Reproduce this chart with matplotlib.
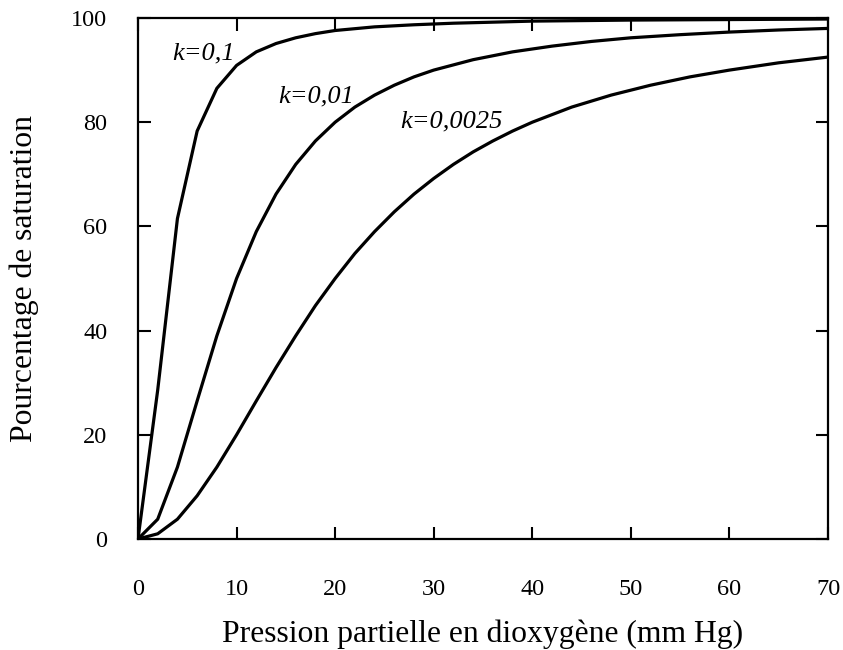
import matplotlib
matplotlib.use("Agg")
import matplotlib.pyplot as plt

# pression (mm Hg) et pourcentage de saturation
p_01 = [0, 2, 4, 6, 8, 10, 12, 14, 16, 18, 20, 24, 28, 32, 40, 50, 60, 70]
s_01 = [0, 28.6, 61.5, 78.3, 86.5, 90.9, 93.5, 95.1, 96.2, 97.0, 97.6, 98.3, 98.7, 99.0, 99.4, 99.6, 99.7, 99.8]

p_001 = [0, 2, 4, 6, 8, 10, 12, 14, 16, 18, 20, 22, 24, 26, 28, 30, 34, 38, 42, 46, 50, 55, 60, 65, 70]
s_001 = [0, 3.8, 13.8, 26.5, 39.0, 50.0, 59.0, 66.2, 71.9, 76.4, 80.0, 82.9, 85.2, 87.1, 88.7, 90.0,
         92.0, 93.5, 94.6, 95.5, 96.2, 96.8, 97.3, 97.7, 98.0]

p_00025 = [0, 2, 4, 6, 8, 10, 12, 14, 16, 18, 20, 22, 24, 26, 28, 30, 32, 34, 36, 38, 40,
           44, 48, 52, 56, 60, 65, 70]
s_00025 = [0, 1.0, 3.8, 8.3, 13.8, 20.0, 26.5, 32.9, 39.0, 44.8, 50.0, 54.8, 59.0, 62.8, 66.2,
           69.2, 71.9, 74.3, 76.4, 78.3, 80.0, 82.9, 85.2, 87.1, 88.7, 90.0, 91.4, 92.5]

labels = ['k=0,1', 'k=0,01', 'k=0,0025']
label_pos = [(3.45, 93.1), (14.2, 85.0), (26.6, 80.2)]

plt.rcParams['font.family'] = ['Liberation Serif', 'DejaVu Serif']

fig = plt.figure(figsize=(8.43, 6.5), dpi=100)
ax = fig.add_axes([138 / 843, 1 - 539 / 650, 690 / 843, 521 / 650])

for p, s in [(p_01, s_01), (p_001, s_001), (p_00025, s_00025)]:
    ax.plot(p, s, color='black', lw=2.3, solid_joinstyle='round')

for txt, (x, y) in zip(labels, label_pos):
    ax.text(x, y, txt, fontsize=19, style='italic', va='center')

ax.set_xlim(0, 70)
ax.set_ylim(0, 100)
ax.set_xticks(range(0, 71, 10))
ax.set_yticks(range(0, 101, 20))
ax.tick_params(direction='in', length=9, width=1.5, top=True, right=True, labelsize=17.5)
ax.tick_params(axis='x', pad=29)
ax.tick_params(axis='y', pad=22)
for sp in ax.spines.values():
    sp.set_linewidth(1.6)

ax.set_xlabel('Pression partielle en dioxygène (mm Hg)', fontsize=22.8, labelpad=14)
ax.set_ylabel('Pourcentage de saturation', fontsize=22.8)
ax.yaxis.set_label_coords(-0.143, 0.5)

fig.savefig('out.png', dpi=100)
